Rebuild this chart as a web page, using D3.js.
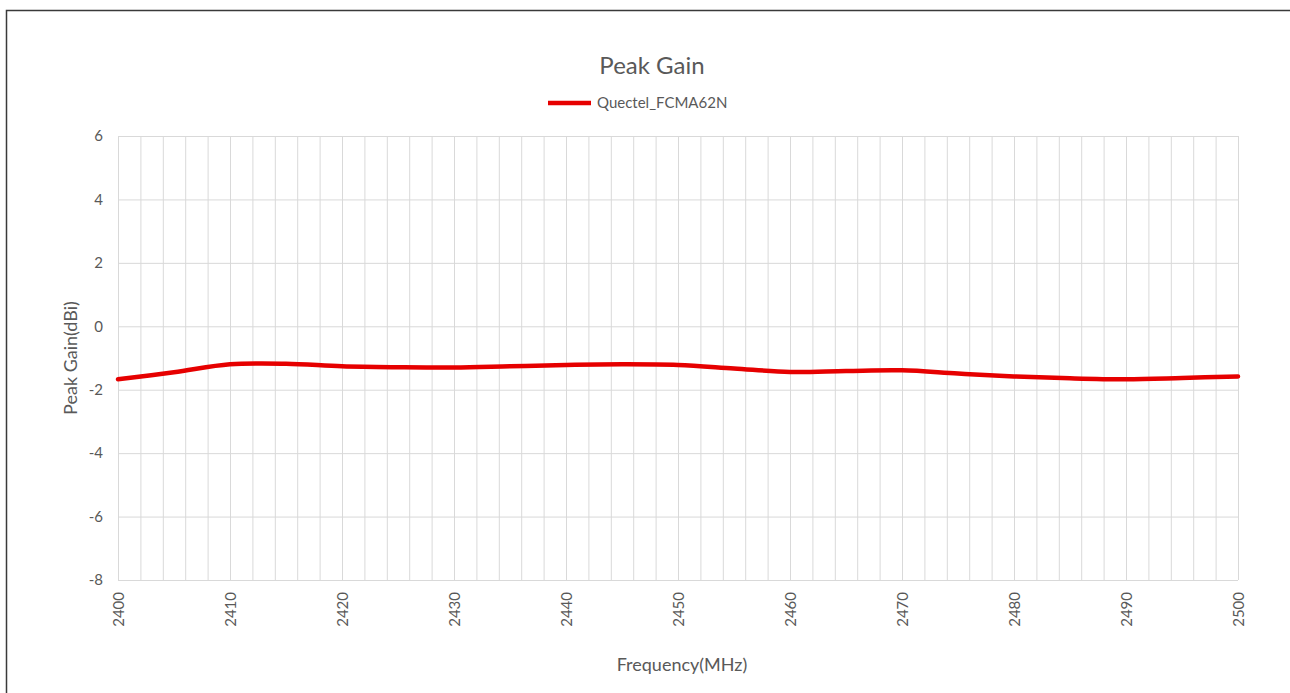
<!DOCTYPE html>
<html>
<head>
<meta charset="utf-8">
<script src="https://cdn.jsdelivr.net/npm/d3@7"></script>
<style>
  body { margin: 0; background: #fff; }
  text { font-family: Lato, "Open Sans", sans-serif; fill: #595959; }
</style>
</head>
<body>
<div id="chart"></div>
<script>
// chart data
const freqs = [2400, 2405, 2410, 2415, 2420, 2425, 2430, 2435, 2440, 2445, 2450,
               2455, 2460, 2465, 2470, 2475, 2480, 2485, 2490, 2495, 2500];
const gains = [-1.67, -1.45, -1.2, -1.18, -1.26, -1.29, -1.3, -1.26, -1.22, -1.2, -1.22,
               -1.33, -1.44, -1.41, -1.39, -1.49, -1.58, -1.64, -1.67, -1.63, -1.58];
const yTicks = [6, 4, 2, 0, -2, -4, -6, -8];
const xTicks = [2400, 2410, 2420, 2430, 2440, 2450, 2460, 2470, 2480, 2490, 2500];
const seriesName = "Quectel_FCMA62N";

const svgWidth = 1290;
const svgHeight = 693;

const margin = { top: 136, right: 52, bottom: 113, left: 118 };
const width = svgWidth - margin.left - margin.right;
const height = svgHeight - margin.top - margin.bottom;

const svg = d3.select("#chart")
    .append("svg")
    .attr("width", svgWidth)
    .attr("height", svgHeight);

// outer frame (only top/left visible in the picture)
svg.append("rect")
    .attr("x", 6.5)
    .attr("y", 10.5)
    .attr("width", svgWidth + 20)
    .attr("height", svgHeight + 20)
    .attr("fill", "none")
    .attr("stroke", "#3a3a3a")
    .attr("stroke-width", 1.5);

const chartGroup = svg.append("g")
    .attr("transform", `translate(${margin.left}, ${margin.top})`);

const x = d3.scaleLinear().domain([2400, 2500]).range([0, width]);
const y = d3.scaleLinear().domain([-8, 6]).range([height, 0]);

// vertical grid every 2 MHz
chartGroup.append("g")
    .attr("transform", `translate(0, ${height})`)
    .call(d3.axisBottom(x).tickValues(d3.range(2400, 2501, 2)).tickSize(-height).tickFormat(""))
    .call(g => g.select(".domain").remove())
    .call(g => g.selectAll("line").attr("stroke", "#d9d9d9"));

// horizontal grid
chartGroup.append("g")
    .call(d3.axisLeft(y).tickValues(yTicks).tickSize(-width).tickFormat(""))
    .call(g => g.select(".domain").remove())
    .call(g => g.selectAll("line").attr("stroke", "#d9d9d9"));

// y tick labels
chartGroup.append("g")
    .attr("transform", "translate(-15, 0)")
    .call(d3.axisLeft(y).tickValues(yTicks).tickSize(0).tickPadding(0).tickFormat(d => String(d)))
    .call(g => g.select(".domain").remove())
    .call(g => g.selectAll("text").style("font-size", "15px").attr("fill", "#595959"));

// x tick labels, rotated
chartGroup.append("g")
    .attr("transform", `translate(0, ${height})`)
    .call(d3.axisBottom(x).tickValues(xTicks).tickSize(0).tickFormat(d => String(d)))
    .call(g => g.select(".domain").remove())
    .call(g => g.selectAll("text")
        .style("font-size", "15px")
        .attr("fill", "#595959")
        .attr("text-anchor", "end")
        .attr("dy", "0.35em")
        .attr("transform", "translate(0, 12) rotate(-90)")
        .attr("y", 0)
        .attr("x", 0));

// the series line
const line = d3.line()
    .x((d, i) => x(freqs[i]))
    .y(d => y(d))
    .curve(d3.curveCatmullRom.alpha(0));

chartGroup.append("path")
    .datum(gains)
    .attr("d", line)
    .attr("fill", "none")
    .attr("stroke", "#e60000")
    .attr("stroke-width", 4.5)
    .attr("stroke-linecap", "round");

// title
svg.append("text")
    .attr("x", 652)
    .attr("y", 74)
    .attr("text-anchor", "middle")
    .style("font-size", "24px")
    .text("Peak Gain");

// legend
svg.append("line")
    .attr("x1", 548).attr("x2", 591)
    .attr("y1", 103).attr("y2", 103)
    .attr("stroke", "#e60000")
    .attr("stroke-width", 4.5);

svg.append("text")
    .attr("x", 597)
    .attr("y", 108)
    .style("font-size", "15px")
    .text(seriesName);

// axis titles
svg.append("text")
    .attr("transform", `translate(77, ${margin.top + height / 2}) rotate(-90)`)
    .attr("text-anchor", "middle")
    .style("font-size", "18px")
    .text("Peak Gain(dBi)");

svg.append("text")
    .attr("x", 682)
    .attr("y", 671)
    .attr("text-anchor", "middle")
    .style("font-size", "18px")
    .text("Frequency(MHz)");
</script>
</body>
</html>
